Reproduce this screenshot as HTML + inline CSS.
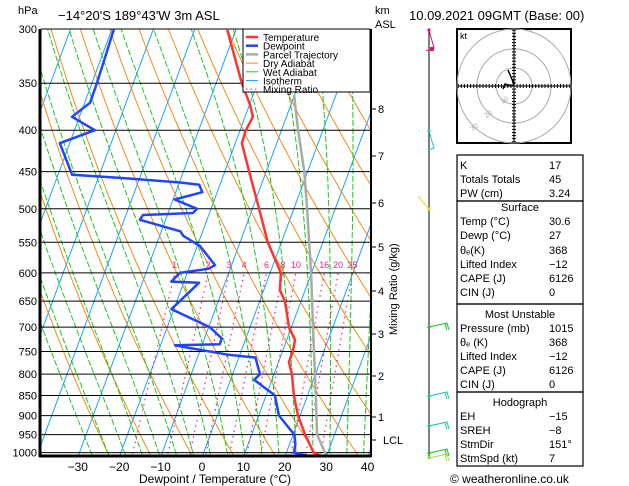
<!DOCTYPE html>
<html><head><meta charset="utf-8">
<style>
html,body{margin:0;padding:0;background:#fff;}
svg{display:block;font-family:"Liberation Sans","DejaVu Sans",sans-serif;}
</style></head>
<body>
<svg id="chart" width="629" height="486" viewBox="0 0 629 486" xmlns="http://www.w3.org/2000/svg">
<defs><clipPath id="plotclip"><rect x="41" y="29" width="329" height="427"/></clipPath></defs>
<g id="bg" clip-path="url(#plotclip)"></g>
<g id="grid"></g>
<g id="series" clip-path="url(#plotclip)"></g>
<g id="axes"></g>
<g id="right"></g>
</svg>
<script>
// ---- data ----
const tempP = [1013,1000,950,900,850,800,773,750,726,700,650,630,600,550,500,450,415,400,385,372,350,300];
const tempT = [29.5,26.6,22.9,19.5,16.7,14.3,12.5,12.5,12.0,9.4,6.1,3.9,2.6,-3.3,-8.4,-14.1,-18.4,-18.6,-18.1,-19.9,-23.8,-32.2];
const dewP = [1013,1000,976,950,900,850,813,800,763,757,743,737,735,723,700,665,617,615,600,593,587,556,540,533,516,509,506,500,487,477,467,464,458,454,415,400,385,370,350,300];
const dewT = [27.3,21.8,21.4,20.3,14.9,12.1,5.7,6.6,4.0,-2.8,-12.6,-16.5,-5.8,-5.8,-9.7,-20.6,-16.3,-23.1,-21.8,-15.3,-14.0,-19.3,-24.3,-25.4,-36.2,-35.9,-24.0,-23.4,-29.6,-23.6,-25.0,-29.8,-44.7,-56.6,-62.4,-55.1,-61.8,-58.7,-58.8,-59.5];
const parcelP = [1013,950,850,700,600,500,450,400,362];
const parcelT = [30.2,25.8,22.0,15.2,9.9,3.2,-0.8,-6.0,-10.1];
const pressureTicks = [300,350,400,450,500,550,600,650,700,750,800,850,900,950,1000];
const tempTicks = [-30,-20,-10,0,10,20,30,40];
const mixRatios = [1,2,3,4,6,8,10,16,20,25];
const kmTicks = ["8","7","6","5","4","3","2","1","LCL"];
const kmY = [109,156,203,247,291,334,376,417,440];

// ---- axis functions ----
const SVGNS="http://www.w3.org/2000/svg";
function yP(p){return 29+351.9*Math.log(p/300);}
function xT(T,p){return 202+4.14*T+0.37*(457-yP(p));}
function mk(tag,attrs,parent){const e=document.createElementNS(SVGNS,tag);for(const k in attrs)e.setAttribute(k,attrs[k]);parent.appendChild(e);return e;}
function txt(s,x,y,attrs,parent){const e=mk('text',Object.assign({x:x,y:y},attrs),parent);e.textContent=s;return e;}
const bg=document.getElementById('bg'),grid=document.getElementById('grid'),ser=document.getElementById('series'),axes=document.getElementById('axes'),right=document.getElementById('right');

// isotherms
for(let T=-120;T<=50;T+=10){
  const l=mk('line',{x1:xT(T,1050),y1:yP(1050),x2:xT(T,280),y2:yP(280),stroke:'#1aa3ff','stroke-width':1},bg);
  
  
}
// dry adiabats
for(let th=250;th<=480;th+=10){
  let pts=[];for(let p=280;p<=1050;p+=10){pts.push(xT(th*Math.pow(p/1000,0.286)-273.15,p).toFixed(1)+','+yP(p).toFixed(1));}
  const l=mk('polyline',{points:pts.join(' '),fill:'none',stroke:'#f08c1a','stroke-width':1},bg);
  
  
}
// wet adiabats
function es(T){return 6.112*Math.exp(17.67*T/(T+243.5));}
for(let tw=-24;tw<=40;tw+=4){
  let T=tw,pts=[];
  for(let p=1050;p>=280;p-=5){
    pts.push(xT(T,p).toFixed(1)+','+yP(p).toFixed(1));
    const Tk=T+273.15,e=es(T),rs=0.622*e/(p-e);
    const dTdlnp=(287*Tk+2.5e6*rs)/(1004+2.5e6*2.5e6*rs*0.622/(287*Tk*Tk));
    T-=dTdlnp*Math.log(p/(p-5));
  }
  const l=mk('polyline',{points:pts.join(' '),fill:'none',stroke:'#1ec81e','stroke-width':1,'stroke-dasharray':'6,2'},bg);
  
  
}
// mixing ratio
function tdOf(w,p){const e=w*p/(622+w);const a=Math.log(e/6.112);return 243.5*a/(17.67-a);}
mixRatios.forEach(w=>{
  const l=mk('line',{x1:xT(tdOf(w,1050),1050),y1:yP(1050),x2:xT(tdOf(w,600),600),y2:yP(600),stroke:'#ff1a8c','stroke-width':1.2,'stroke-dasharray':'1.5,4'},bg);
  
  
  const t=txt(String(w),xT(tdOf(w,600),600),268,{'font-size':9,fill:'#ff1a8c','text-anchor':'middle'},axes);
  
  
});
// pressure grid
pressureTicks.forEach(p=>{
  const y=yP(p);
  const l=mk('line',{x1:41,y1:y,x2:370,y2:y,stroke:'#000','stroke-width':1},grid);
  
  
  const t=txt(String(p),37,y+4,{'font-size':11,'text-anchor':'end',fill:'#000'},axes);
  
  
});
// series
function line(P,T,color,w,name){
  const pts=P.map((p,i)=>xT(T[i],p).toFixed(1)+','+yP(p).toFixed(1)).join(' ');
  const l=mk('polyline',{points:pts,fill:'none',stroke:color,'stroke-width':w,'stroke-linejoin':'round'},ser);
  
  
}
line(parcelP,parcelT,'#aaaaaa',2.5,'parcel-trajectory-line');
line(tempP,tempT,'#ff3333',2.5,'temperature-line');
line(dewP,dewT,'#2244ff',2.5,'dewpoint-line');

// frame
mk('line',{x1:40,y1:29,x2:40,y2:457,stroke:'#000','stroke-width':3},axes);
mk('line',{x1:39,y1:456,x2:371,y2:456,stroke:'#000','stroke-width':3},axes);
mk('line',{x1:371,y1:29,x2:371,y2:457,stroke:'#000','stroke-width':2},axes);
tempTicks.forEach(T=>{
  const t=txt(T<0?'\u2212'+(-T):String(T),xT(T,yToP(457)),471,{'font-size':12,'text-anchor':'middle'},axes);
  
  
});
function yToP(y){return 300*Math.exp((y-29)/351.9);}
let t;
t=txt('Dewpoint / Temperature (°C)',215,483,{'font-size':12,'text-anchor':'middle'},axes);
t=txt('hPa',18,14,{'font-size':11},axes);
t=txt('\u221214°20\'S  189°43\'W  3m  ASL',58,20,{'font-size':13},axes);
t=txt('km',375,14,{'font-size':11},axes);
t=txt('ASL',375,28,{'font-size':11},axes);
t=txt('10.09.2021  09GMT  (Base: 00)',409,20,{'font-size':13},axes);
kmTicks.forEach((k,i)=>{
  mk('line',{x1:371,y1:kmY[i],x2:376,y2:kmY[i],stroke:'#000'},axes);
  const tt=txt(k,k==='LCL'?383:378,kmY[i]+4,{'font-size':11},axes);
  
  
});
t=txt('Mixing Ratio (g/kg)',0,0,{'font-size':11,transform:'translate(397,335) rotate(-90)'},axes);

// legend
const lg=mk('g',{},axes);
mk('rect',{x:243,y:29,width:127,height:63,fill:'#fff',stroke:'#000','stroke-width':1},lg);
const legItems=[['Temperature','#ff3333',2.5,''],['Dewpoint','#2244ff',2.5,''],['Parcel Trajectory','#aaaaaa',2.5,''],['Dry Adiabat','#f08c1a',1,''],['Wet Adiabat','#1ec81e',1,''],['Isotherm','#1aa3ff',1,''],['Mixing Ratio','#ff1a8c',1.2,'1.5,3']];
legItems.forEach((it,i)=>{
  const y=37+i*8.7;
  const g=mk('g',{},lg);
  const a={x1:246,y1:y,x2:258,y2:y,stroke:it[1],'stroke-width':it[2]};if(it[3])a['stroke-dasharray']=it[3];
  mk('line',a,g);
  txt(it[0],263,y+4,{'font-size':10},g);
});

// wind barbs
const wb=mk('g',{},right);
mk('line',{x1:429,y1:29,x2:429,y2:457,stroke:'#000','stroke-width':1},wb);
function barb(y,c){mk('circle',{cx:429,cy:y,r:1.6,fill:c},wb);mk('polyline',{points:`429,${y} 447,${y-4} 449,${y+3}`,fill:'none',stroke:c,'stroke-width':1},wb);mk('line',{x1:445,y1:y-3,x2:447,y2:y+3,stroke:c},wb);}
mk('circle',{cx:429,cy:30,r:1.6,fill:'#e0107a'},wb);mk('polyline',{points:'429,30 434,48 426,51',fill:'none',stroke:'#e0107a'},wb);mk('rect',{x:430,y:47,width:4,height:4,fill:'#e0107a'},wb);
mk('circle',{cx:429,cy:131,r:1.6,fill:'#1cc8c8'},wb);mk('polyline',{points:'429,131 434,148 428,150',fill:'none',stroke:'#1cc8c8'},wb);
mk('circle',{cx:429,cy:209,r:1.6,fill:'#e0e020'},wb);mk('line',{x1:429,y1:209,x2:418,y2:196,stroke:'#e0e020'},wb);
barb(327,'#10c830');barb(396,'#10c8a0');barb(426,'#10c8a0');barb(453,'#10c820');barb(458,'#a0e040');

// hodograph
const hg=mk('g',{},right);
mk('rect',{x:457,y:29,width:114,height:114,fill:'#fff',stroke:'#000','stroke-width':2},hg);
[18,37,57].forEach(r=>mk('circle',{cx:514,cy:86,r:r,fill:'none',stroke:'#aaa'},hg));
mk('line',{x1:458,y1:86,x2:570,y2:86,stroke:'#000'},hg);mk('line',{x1:514,y1:30,x2:514,y2:142,stroke:'#000'},hg);
for(let i=-18;i<=18;i++){if(i===0)continue;const d=i*3.1;mk('line',{x1:514+d,y1:84,x2:514+d,y2:88,stroke:'#000'},hg);mk('line',{x1:512,y1:86+d,x2:516,y2:86+d,stroke:'#000'},hg);}
mk('polyline',{points:'508,70 514,84 512,86 505,84 503,89',fill:'none',stroke:'#000','stroke-width':1.5},hg);
txt('kt',460,39,{'font-size':9},hg);
txt('10',500,103,{'font-size':7,fill:'#aaa',transform:'rotate(-35 503 100)'},hg);
txt('20',484,117,{'font-size':7,fill:'#aaa',transform:'rotate(-35 487 114)'},hg);
txt('30',470,130,{'font-size':7,fill:'#aaa',transform:'rotate(-35 473 127)'},hg);

// table
const tb=mk('g',{},right);
const boxes=[[155,201],[201,304],[304,392],[392,466]];
boxes.forEach(b=>mk('rect',{x:457,y:b[0],width:126,height:b[1]-b[0],fill:'none',stroke:'#000','stroke-width':1.2},tb));
const rows=[
 [169,'K','17'],[183,'Totals Totals','45'],[197,'PW (cm)','3.24'],
 [211,'#Surface',''],[225,'Temp (°C)','30.6'],[239,'Dewp (°C)','27'],[254,'θₑ(K)','368'],[268,'Lifted Index','\u221212'],[282,'CAPE (J)','6126'],[296,'CIN (J)','0'],
 [318,'#Most Unstable',''],[332,'Pressure (mb)','1015'],[346,'θₑ (K)','368'],[360,'Lifted Index','\u221212'],[374,'CAPE (J)','6126'],[388,'CIN (J)','0'],
 [406,'#Hodograph',''],[420,'EH','\u221215'],[434,'SREH','\u22128'],[448,'StmDir','151°'],[462,'StmSpd (kt)','7']];
rows.forEach(r=>{
  if(r[1][0]==='#'){const h=txt(r[1].slice(1),520,r[0],{'font-size':11,'text-anchor':'middle'},tb);}
  else{const a=txt(r[1],460,r[0],{'font-size':11},tb);
  const b=txt(r[2],549,r[0],{'font-size':11},tb);}
});
t=txt('© weatheronline.co.uk',450,483,{'font-size':12},right);
</script>
</body></html>
